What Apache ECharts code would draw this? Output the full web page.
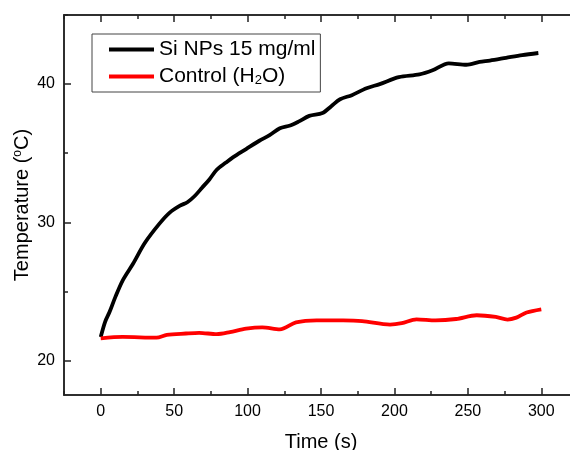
<!DOCTYPE html>
<html>
<head>
<meta charset="utf-8">
<script src="https://cdn.jsdelivr.net/npm/echarts@6/dist/echarts.min.js"></script>
<style>html,body{margin:0;padding:0;background:#fff}#c{width:570px;height:450px}</style>
</head>
<body>
<div id="c"></div>
<script>
// ---- data ----
const siTime = [0, 3, 6, 10, 15, 22, 30, 40, 47, 54, 59, 64, 69, 74, 79, 85, 90, 99, 108, 115, 122, 129, 135, 142, 151, 157, 163, 171, 181, 190, 203, 217, 226, 237, 249, 258, 265, 276, 287, 298];
const siTemp = [21.7, 22.8, 23.5, 24.6, 25.8, 27.0, 28.5, 29.9, 30.7, 31.2, 31.45, 31.9, 32.5, 33.1, 33.8, 34.3, 34.7, 35.3, 35.9, 36.3, 36.8, 37.0, 37.3, 37.7, 37.9, 38.4, 38.9, 39.2, 39.7, 40.0, 40.5, 40.7, 41.0, 41.5, 41.4, 41.6, 41.7, 41.9, 42.1, 42.25];
const ctrlTime = [0, 15, 38, 45, 58, 67, 79, 88, 99, 110, 122, 133, 147, 165, 178, 197, 205, 215, 228, 242, 256, 269, 277, 283, 290, 300];
const ctrlTemp = [21.6, 21.7, 21.65, 21.85, 21.95, 22.0, 21.9, 22.05, 22.3, 22.4, 22.25, 22.75, 22.9, 22.9, 22.85, 22.6, 22.7, 22.98, 22.9, 23.0, 23.27, 23.15, 22.96, 23.1, 23.47, 23.7];
const seriesNames = ['Si NPs 15 mg/ml', 'Control (H2O)'];
const xTickLabels = [0, 50, 100, 150, 200, 250, 300];
const xMinorTicks = [-25, 25, 75, 125, 175, 225, 275, 325];
const yTickLabels = [20, 30, 40];
const yMinorTicks = [25, 35, 45];

const X_MIN = -25, X_MAX = 325, Y_MIN = 17.5, Y_MAX = 45;
const FONT = 'Liberation Sans, Arial, sans-serif';
const axisColor = '#222';

function axisDef(position, min, max, ticks, tickLen, showLabels, margin) {
  return {
    type: 'value', position: position, min: min, max: max,
    axisLine: { show: true, onZero: false, lineStyle: { color: axisColor, width: 1.5 } },
    axisTick: { show: true, inside: true, length: tickLen, customValues: ticks, lineStyle: { color: axisColor, width: 1.5 } },
    splitLine: { show: false },
    axisLabel: {
      show: showLabels, margin: margin, fontFamily: FONT, fontSize: 16, color: '#000',
      customValues: ticks
    }
  };
}

const xMain = axisDef('bottom', X_MIN, X_MAX, xTickLabels, 7, true, 9);
xMain.name = 'Time (s)';
xMain.nameLocation = 'middle';
xMain.nameGap = 37;
xMain.nameTextStyle = { fontFamily: FONT, fontSize: 20, color: '#000' };

const yMain = axisDef('left', Y_MIN, Y_MAX, yTickLabels, 7, true, 9);
yMain.name = 'Temperature ({sup|o}C)';
yMain.nameLocation = 'middle';
yMain.nameGap = 32;
yMain.nameMoveOverlap = false;
yMain.nameTextStyle = {
  fontFamily: FONT, fontSize: 20, color: '#000',
  rich: { sup: { fontFamily: FONT, fontSize: 12, color: '#000', verticalAlign: 'top', padding: [0, 0, 8, 0] } }
};

const chart = echarts.init(document.getElementById('c'), null, { renderer: 'canvas' });
chart.setOption({
  backgroundColor: '#fff',
  animation: false,
  grid: { left: 64, top: 15, width: 514, height: 380, containLabel: false, outerBoundsMode: 'none' },
  xAxis: [
    xMain,
    axisDef('bottom', X_MIN, X_MAX, xMinorTicks, 4, false, 8),
    axisDef('top', X_MIN, X_MAX, xTickLabels, 7, false, 8),
    axisDef('top', X_MIN, X_MAX, xMinorTicks, 4, false, 8)
  ],
  yAxis: [
    yMain,
    axisDef('left', Y_MIN, Y_MAX, yMinorTicks, 4, false, 9)
  ],
  legend: {
    left: 92, top: 34, orient: 'vertical',
    padding: [5, 5, 5, 17], itemGap: 4,
    borderColor: '#444', borderWidth: 1,
    icon: 'rect', itemWidth: 45, itemHeight: 4,
    data: seriesNames,
    textStyle: {
      fontFamily: FONT, fontSize: 21, color: '#000', lineHeight: 21,
      rich: { sub: { fontFamily: FONT, fontSize: 13, color: '#000', verticalAlign: 'bottom', lineHeight: 21, padding: [10, 0, 0, 0] } }
    },
    formatter: n => n === 'Control (H2O)' ? 'Control (H{sub|2}O)' : n
  },
  series: [
    {
      name: seriesNames[0], type: 'line', xAxisIndex: 0, yAxisIndex: 0,
      data: siTime.map((t, i) => [t, siTemp[i]]),
      showSymbol: false, smooth: 0.3,
      lineStyle: { color: '#000', width: 3.8 }, itemStyle: { color: '#000' }
    },
    {
      name: seriesNames[1], type: 'line', xAxisIndex: 0, yAxisIndex: 0,
      data: ctrlTime.map((t, i) => [t, ctrlTemp[i]]),
      showSymbol: false, smooth: 0.3,
      lineStyle: { color: '#ff0000', width: 3.8 }, itemStyle: { color: '#ff0000' }
    }
  ]
});
</script>
</body>
</html>
